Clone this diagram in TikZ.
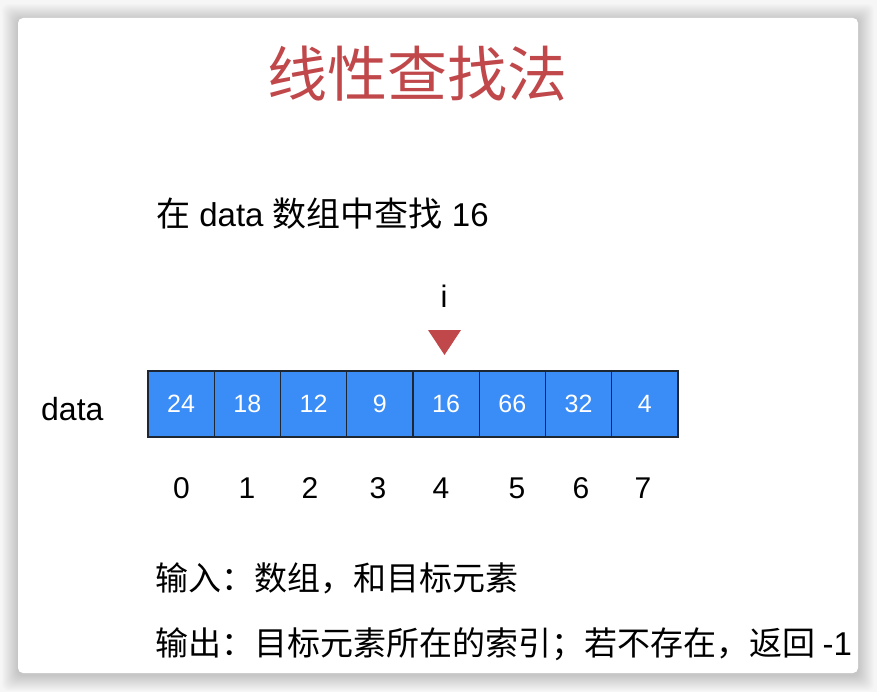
\documentclass[tikz,border=0pt]{standalone}
\usepackage{fontspec}
\setmainfont{Liberation Sans}
\newfontfamily\cjk{Noto Sans CJK SC}
\definecolor{titlered}{HTML}{C0484B}
\definecolor{cellblue}{HTML}{3A8CF7}
\definecolor{cellline}{HTML}{1C2733}
\definecolor{bggray}{HTML}{F6F6F6}
\tikzset{
  cellbox/.style={draw=cellline, line width=1.4pt, fill=cellblue, inner sep=0pt,
    minimum width=66.25pt, minimum height=66pt, text=white, font=\fontsize{25}{25}\selectfont},
  idx/.style={anchor=base, inner sep=0pt, font=\fontsize{30}{30}\selectfont},
  bodytext/.style={anchor=base west, inner sep=0pt},
}
\begin{document}
\begin{tikzpicture}[x=1pt,y=-1pt]
\useasboundingbox (0,0) rectangle (877,692);
\fill[bggray] (0,0) rectangle (877,692);
% shadow
\foreach \k in {1,...,16}{
  \fill[black, opacity=0.012, rounded corners=6pt] (18-\k,18-\k+2) rectangle (858+\k,673+\k+2);
}
\fill[white, rounded corners=5pt] (18,18) rectangle (858,673);
% title
\node[anchor=base, inner sep=0pt, text=titlered, font=\cjk\fontsize{60}{60}\selectfont] (title) at (417,97) {线性查找法};
% task line
\node[bodytext, font=\fontsize{33}{33}\selectfont] (task) at (156,227) {{\cjk\fontsize{34}{34}\selectfont 在} data {\cjk\fontsize{34}{34}\selectfont 数组中查找} 16};
% pointer
\node[anchor=base, inner sep=0pt, font=\fontsize{31}{31}\selectfont] (ilabel) at (444,307) {i};
\fill[titlered] (428,330) -- (461,330) -- (444.5,355) -- cycle;
% data label
\node[bodytext, font=\fontsize{32}{32}\selectfont] (datalabel) at (41,420) {data};
% cells
\foreach \v [count=\k from 0] in {24,18,12,9,16,66,32,4}{
  \node[cellbox] (c\k) at ({148+66.25*(\k+0.5)},404) {\v};
}
% indices
\foreach \x [count=\k from 0] in {181.5,247,310,378,441,517,581,643}{
  \node[idx] (i\k) at (\x,498) {\k};
}
% io lines
\node[bodytext, font=\cjk\fontsize{33}{33}\selectfont] (inputline) at (155,590) {输入：数组，和目标元素};
\node[bodytext, font=\cjk\fontsize{33}{33}\selectfont] (outputline) at (155,655) {输出：目标元素所在的索引；若不存在，返回\ {\fontspec{Liberation Sans}-1}};
\end{tikzpicture}
\end{document}
